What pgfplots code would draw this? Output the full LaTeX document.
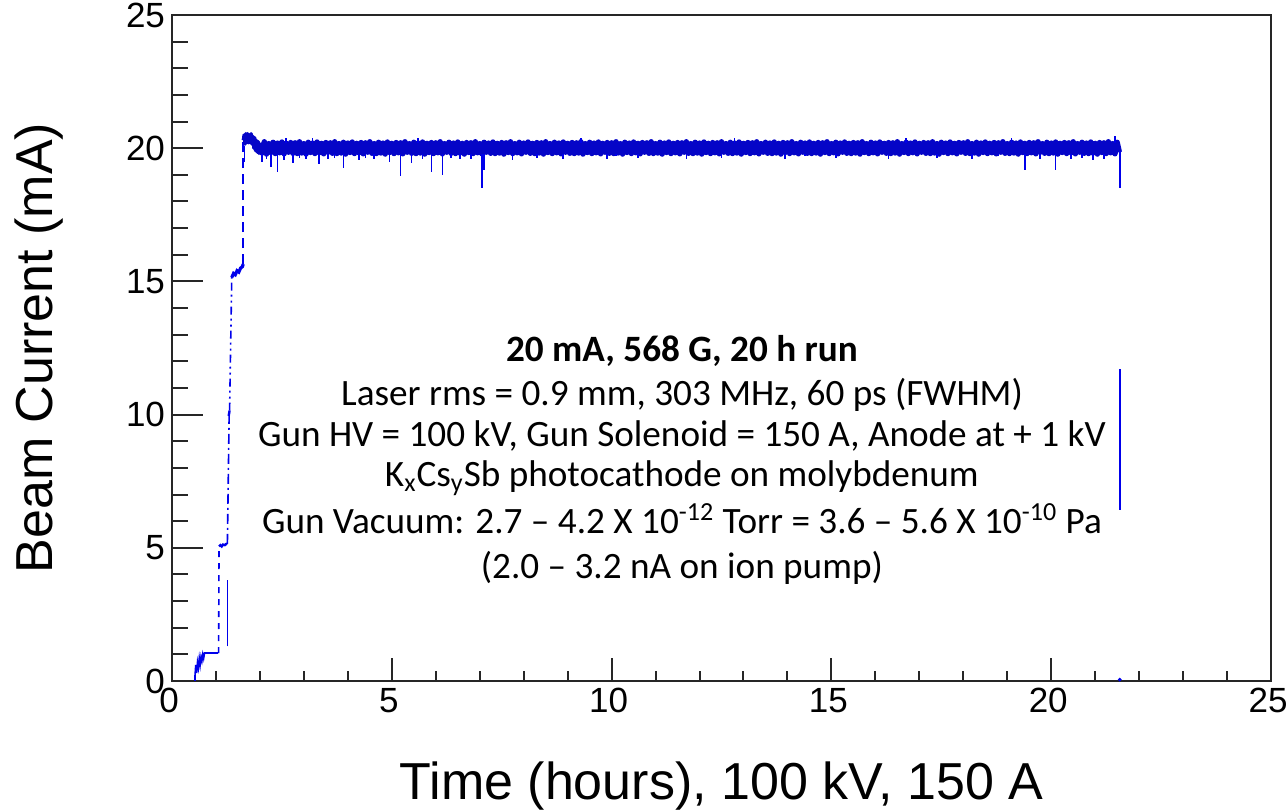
\documentclass[border=0pt]{standalone}
\usepackage{fontspec}
\setmainfont{Liberation Sans}
\newfontfamily\calibri{Carlito}
\usepackage{pgfplots}
\pgfplotsset{compat=1.18}
\definecolor{beam}{rgb}{0,0,0.92}
\definecolor{beamdark}{rgb}{0.02,0.02,0.78}
\begin{document}
\begin{tikzpicture}
\begin{axis}[
  width=549.5pt, height=333pt, scale only axis,
  xmin=0, xmax=25, ymin=0, ymax=25,
  xtick={0,5,10,15,20,25}, ytick={0,5,10,15,20,25},
  xticklabels={0,5,10,15,20,25}, yticklabels={0,5,10,15,20,25},
  minor tick num=4,
  tick align=inside, xtick pos=left, ytick pos=left,
  axis line style={line width=1pt, black!85},
  every tick/.style={black!85, line width=1pt},
  major tick length=15.5pt, minor tick length=8pt,
  xtick style={/pgfplots/major tick length=11.5pt, /pgfplots/minor tick length=5pt},
  tick label style={font=\fontsize{17.5}{21}\selectfont},
  xticklabel style={xshift=-1.5pt},
  /pgf/number format/assume math mode=true,
  unbounded coords=jump,
]
% ramp-up: first plateau (about 1 mA)
\addplot[beam, line width=0.8pt] coordinates {(0.52,0.1)(0.54,0.6)(0.56,0.3)(0.58,0.7)(0.60,0.5)(0.62,0.85)(0.64,0.6)(0.66,0.9)(0.68,0.75)(0.70,1.0)(0.72,0.85)(0.74,1.05)(0.78,1.05)(1.05,1.05)};
\addplot[beam, line width=0.8pt, dashed] coordinates {(0.52,0.0)(0.52,0.4)};
\addplot[beam, line width=0.8pt, dashed] coordinates {(1.06,1.05)(1.07,5.05)};
% 5 mA step
\addplot[beam, line width=1.2pt] coordinates {(1.07,5.05)(1.10,5.1)(1.13,5.05)(1.16,5.12)(1.20,5.1)(1.24,5.15)(1.26,5.15)};
\addplot[beam, line width=0.8pt] coordinates {(1.26,1.3)(1.26,3.8)};
\addplot[beam, line width=0.8pt, dash pattern=on 5pt off 2pt on 1pt off 2pt] coordinates {(1.26,5.15)(1.30,10.0)};
% 10 mA step
\addplot[beam, line width=1.2pt] coordinates {(1.29,9.95)(1.31,10.15)};
\addplot[beam, line width=0.8pt, dash pattern=on 4pt off 2pt on 1pt off 2pt on 1pt off 2pt] coordinates {(1.31,10.15)(1.36,15.2)};
% 15 mA step
\addplot[beam, line width=1.6pt] coordinates {(1.36,15.15)(1.40,15.3)(1.44,15.25)(1.48,15.4)(1.52,15.35)(1.56,15.5)(1.60,15.55)(1.62,15.65)};
\addplot[beam, line width=0.8pt, dash pattern=on 5pt off 3pt] coordinates {(1.62,15.65)(1.62,20.3)};
% 20 mA: overshoot at start
\addplot[beamdark, line width=1.6pt, line join=round] coordinates {
(1.62,20.3)(1.64,20.5)(1.66,20.15)(1.68,20.55)(1.70,20.2)(1.72,20.55)(1.74,20.2)(1.76,20.5)(1.78,20.2)(1.80,20.55)(1.82,20.15)(1.84,20.45)(1.86,20.0)(1.88,20.4)(1.90,19.9)(1.92,20.3)(1.94,19.85)(1.96,20.25)(1.98,19.8)(2.00,20.2)};
\addplot[beam, line width=0.8pt] coordinates {(1.65,20.1)(1.65,19.5)};
% 20 mA run: band
\addplot[beamdark, line width=2.7pt, line join=round] coordinates {
(2.00,20.2)(2.05,19.82)(2.10,20.24)(2.15,19.78)(2.20,20.17)(2.25,19.84)(2.30,20.22)(2.35,19.8)(2.40,20.19)(2.45,19.83)(2.50,20.23)(2.55,19.79)(2.60,20.18)(2.65,19.85)(2.70,20.21)(2.75,19.81)(2.80,20.2)(2.85,19.8)(2.90,20.24)(2.95,19.82)
(3.00,20.17)(3.05,19.78)(3.10,20.22)(3.15,19.84)(3.20,20.19)(3.25,19.8)(3.30,20.23)(3.35,19.83)(3.40,20.18)(3.45,19.79)(3.50,20.21)(3.55,19.85)(3.60,20.2)(3.65,19.81)(3.70,20.24)(3.75,19.8)(3.80,20.17)(3.85,19.82)(3.90,20.22)(3.95,19.78)
(4.00,20.19)(4.05,19.84)(4.10,20.23)(4.15,19.8)(4.20,20.18)(4.25,19.83)(4.30,20.21)(4.35,19.79)(4.40,20.2)(4.45,19.85)(4.50,20.24)(4.55,19.81)(4.60,20.17)(4.65,19.8)(4.70,20.22)(4.75,19.82)(4.80,20.19)(4.85,19.78)(4.90,20.23)(4.95,19.84)
(5.00,20.18)(5.05,19.8)(5.10,20.21)(5.15,19.83)(5.20,20.2)(5.25,19.79)(5.30,20.24)(5.35,19.85)(5.40,20.17)(5.45,19.81)(5.50,20.22)(5.55,19.8)(5.60,20.19)(5.65,19.82)(5.70,20.23)(5.75,19.78)(5.80,20.18)(5.85,19.84)(5.90,20.21)(5.95,19.8)
(6.00,20.2)(6.05,19.83)(6.10,20.24)(6.15,19.79)(6.20,20.17)(6.25,19.85)(6.30,20.22)(6.35,19.81)(6.40,20.19)(6.45,19.8)(6.50,20.23)(6.55,19.82)(6.60,20.18)(6.65,19.78)(6.70,20.21)(6.75,19.84)(6.80,20.2)(6.85,19.8)(6.90,20.24)(6.95,19.83)
(7.00,20.17)(7.05,19.79)(7.10,20.22)(7.15,19.85)(7.20,20.19)(7.25,19.81)(7.30,20.23)(7.35,19.8)(7.40,20.18)(7.45,19.82)(7.50,20.21)(7.55,19.78)(7.60,20.2)(7.65,19.84)(7.70,20.24)(7.75,19.8)(7.80,20.17)(7.85,19.83)(7.90,20.22)(7.95,19.79)
(8.00,20.19)(8.05,19.85)(8.10,20.23)(8.15,19.81)(8.20,20.18)(8.25,19.8)(8.30,20.21)(8.35,19.82)(8.40,20.2)(8.45,19.78)(8.50,20.24)(8.55,19.84)(8.60,20.17)(8.65,19.8)(8.70,20.22)(8.75,19.83)(8.80,20.19)(8.85,19.79)(8.90,20.23)(8.95,19.85)
(9.00,20.18)(9.05,19.81)(9.10,20.21)(9.15,19.8)(9.20,20.2)(9.25,19.82)(9.30,20.24)(9.35,19.78)(9.40,20.17)(9.45,19.84)(9.50,20.22)(9.55,19.8)(9.60,20.19)(9.65,19.83)(9.70,20.23)(9.75,19.79)(9.80,20.18)(9.85,19.85)(9.90,20.21)(9.95,19.81)
(10.00,20.2)(10.05,19.8)(10.10,20.24)(10.15,19.82)(10.20,20.17)(10.25,19.78)(10.30,20.22)(10.35,19.84)(10.40,20.19)(10.45,19.8)(10.50,20.23)(10.55,19.83)(10.60,20.18)(10.65,19.79)(10.70,20.21)(10.75,19.85)(10.80,20.2)(10.85,19.81)(10.90,20.24)(10.95,19.8)
(11.00,20.17)(11.05,19.82)(11.10,20.22)(11.15,19.78)(11.20,20.19)(11.25,19.84)(11.30,20.23)(11.35,19.8)(11.40,20.18)(11.45,19.83)(11.50,20.21)(11.55,19.79)(11.60,20.2)(11.65,19.85)(11.70,20.24)(11.75,19.81)(11.80,20.17)(11.85,19.8)(11.90,20.22)(11.95,19.82)
(12.00,20.19)(12.05,19.78)(12.10,20.23)(12.15,19.84)(12.20,20.18)(12.25,19.8)(12.30,20.21)(12.35,19.83)(12.40,20.2)(12.45,19.79)(12.50,20.24)(12.55,19.85)(12.60,20.17)(12.65,19.81)(12.70,20.22)(12.75,19.8)(12.80,20.19)(12.85,19.82)(12.90,20.23)(12.95,19.78)
(13.00,20.18)(13.05,19.84)(13.10,20.21)(13.15,19.8)(13.20,20.2)(13.25,19.83)(13.30,20.24)(13.35,19.79)(13.40,20.17)(13.45,19.85)(13.50,20.22)(13.55,19.81)(13.60,20.19)(13.65,19.8)(13.70,20.23)(13.75,19.82)(13.80,20.18)(13.85,19.78)(13.90,20.21)(13.95,19.84)
(14.00,20.2)(14.05,19.8)(14.10,20.24)(14.15,19.83)(14.20,20.17)(14.25,19.79)(14.30,20.22)(14.35,19.85)(14.40,20.19)(14.45,19.81)(14.50,20.23)(14.55,19.8)(14.60,20.18)(14.65,19.82)(14.70,20.21)(14.75,19.78)(14.80,20.2)(14.85,19.84)(14.90,20.24)(14.95,19.8)
(15.00,20.17)(15.05,19.83)(15.10,20.22)(15.15,19.79)(15.20,20.19)(15.25,19.85)(15.30,20.23)(15.35,19.81)(15.40,20.18)(15.45,19.8)(15.50,20.21)(15.55,19.82)(15.60,20.2)(15.65,19.78)(15.70,20.24)(15.75,19.84)(15.80,20.17)(15.85,19.8)(15.90,20.22)(15.95,19.83)
(16.00,20.19)(16.05,19.79)(16.10,20.23)(16.15,19.85)(16.20,20.18)(16.25,19.81)(16.30,20.21)(16.35,19.8)(16.40,20.2)(16.45,19.82)(16.50,20.24)(16.55,19.78)(16.60,20.17)(16.65,19.84)(16.70,20.22)(16.75,19.8)(16.80,20.19)(16.85,19.83)(16.90,20.23)(16.95,19.79)
(17.00,20.18)(17.05,19.85)(17.10,20.21)(17.15,19.81)(17.20,20.2)(17.25,19.8)(17.30,20.24)(17.35,19.82)(17.40,20.17)(17.45,19.78)(17.50,20.22)(17.55,19.84)(17.60,20.19)(17.65,19.8)(17.70,20.23)(17.75,19.83)(17.80,20.18)(17.85,19.79)(17.90,20.21)(17.95,19.85)
(18.00,20.2)(18.05,19.81)(18.10,20.24)(18.15,19.8)(18.20,20.17)(18.25,19.82)(18.30,20.22)(18.35,19.78)(18.40,20.19)(18.45,19.84)(18.50,20.23)(18.55,19.8)(18.60,20.18)(18.65,19.83)(18.70,20.21)(18.75,19.79)(18.80,20.2)(18.85,19.85)(18.90,20.24)(18.95,19.81)
(19.00,20.17)(19.05,19.8)(19.10,20.22)(19.15,19.82)(19.20,20.19)(19.25,19.78)(19.30,20.23)(19.35,19.84)(19.40,20.18)(19.45,19.8)(19.50,20.21)(19.55,19.83)(19.60,20.2)(19.65,19.79)(19.70,20.24)(19.75,19.85)(19.80,20.17)(19.85,19.81)(19.90,20.22)(19.95,19.8)
(20.00,20.19)(20.05,19.82)(20.10,20.23)(20.15,19.78)(20.20,20.18)(20.25,19.84)(20.30,20.21)(20.35,19.8)(20.40,20.2)(20.45,19.83)(20.50,20.24)(20.55,19.79)(20.60,20.17)(20.65,19.85)(20.70,20.22)(20.75,19.81)(20.80,20.19)(20.85,19.8)(20.90,20.23)(20.95,19.82)
(21.00,20.18)(21.05,19.78)(21.10,20.21)(21.15,19.84)(21.20,20.2)(21.25,19.8)(21.30,20.24)(21.35,19.83)(21.40,20.17)(21.45,19.79)(21.50,20.22)(21.55,19.85)
};
% 20 mA run: short excursions
\addplot[beam, line width=0.8pt] coordinates {
(2.05,19.8)(2.05,19.5)(2.05,nan)(2.15,19.8)(2.15,19.6)(2.15,nan)(2.25,19.8)(2.25,19.3)(2.25,nan)(2.40,19.8)(2.40,19.1)(2.40,nan)
(2.55,19.8)(2.55,19.55)(2.55,nan)(2.60,20.2)(2.60,20.4)(2.60,nan)(2.75,19.8)(2.75,19.45)(2.75,nan)(2.90,19.8)(2.90,19.65)(2.90,nan)
(3.05,19.8)(3.05,19.6)(3.05,nan)(3.20,20.2)(3.20,20.38)(3.20,nan)(3.35,19.8)(3.35,19.4)(3.35,nan)(3.55,19.8)(3.55,19.6)(3.55,nan)
(3.70,19.8)(3.70,19.65)(3.70,nan)(3.90,19.8)(3.90,19.25)(3.90,nan)(4.25,19.8)(4.25,19.55)(4.25,nan)(4.40,19.8)(4.40,19.65)(4.40,nan)
(4.60,19.8)(4.60,19.6)(4.60,nan)(4.95,19.8)(4.95,19.5)(4.95,nan)(5.20,19.8)(5.20,18.95)(5.20,nan)(5.45,19.8)(5.45,19.45)(5.45,nan)
(5.60,20.2)(5.60,20.38)(5.60,nan)(5.70,19.8)(5.70,19.6)(5.70,nan)(5.90,19.8)(5.90,19.1)(5.90,nan)(6.15,19.8)(6.15,19.0)(6.15,nan)
(6.35,19.8)(6.35,19.65)(6.35,nan)(6.55,19.8)(6.55,19.6)(6.55,nan)(6.80,19.8)(6.80,19.6)(6.80,nan)(7.05,19.8)(7.05,18.5)(7.05,nan)
(7.10,19.8)(7.10,19.2)(7.10,nan)(7.75,19.8)(7.75,19.55)(7.75,nan)(8.30,19.8)(8.30,19.65)(8.30,nan)(8.90,19.8)(8.90,19.6)(8.90,nan)
(9.30,20.2)(9.30,20.38)(9.30,nan)(9.90,19.8)(9.90,19.6)(9.90,nan)(10.10,19.8)(10.10,19.7)(10.10,nan)(10.60,19.8)(10.60,19.65)(10.60,nan)
(11.70,19.8)(11.70,19.6)(11.70,nan)(12.50,19.8)(12.50,19.65)(12.50,nan)(12.80,20.2)(12.80,20.38)(12.80,nan)(13.95,19.8)(13.95,19.6)(13.95,nan)
(14.40,19.8)(14.40,19.7)(14.40,nan)(15.10,19.8)(15.10,19.65)(15.10,nan)(16.30,19.8)(16.30,19.6)(16.30,nan)(16.70,20.2)(16.70,20.38)(16.70,nan)
(17.40,19.8)(17.40,19.65)(17.40,nan)(18.20,19.8)(18.20,19.6)(18.20,nan)(18.80,19.8)(18.80,19.7)(18.80,nan)(19.10,20.2)(19.10,20.38)(19.10,nan)
(19.40,19.8)(19.40,19.2)(19.40,nan)(19.75,19.8)(19.75,19.6)(19.75,nan)(20.10,19.8)(20.10,19.2)(20.10,nan)(20.45,19.8)(20.45,19.6)(20.45,nan)
(20.70,19.8)(20.70,19.65)(20.70,nan)(20.95,19.8)(20.95,19.55)(20.95,nan)(21.20,19.8)(21.20,19.6)(21.20,nan)(21.45,20.2)(21.45,20.45)
};
% end of run
\addplot[beam, line width=0.8pt] coordinates {(21.56,19.9)(21.56,18.5)};
\addplot[beam, line width=0.8pt] coordinates {(21.56,11.7)(21.56,6.4)};
\addplot[beam, only marks, mark=*, mark size=0.7pt] coordinates {(21.56,0.05)};
% annotation
\node[anchor=base, font=\calibri\bfseries\fontsize{18.6}{22}\selectfont] at (axis cs:11.6,11.99) {20 mA, 568 G, 20 h run};
\node[anchor=base, font=\calibri\fontsize{18.6}{22}\selectfont] at (axis cs:11.6,10.36) {Laser rms = 0.9 mm, 303 MHz, 60 ps (FWHM)};
\node[anchor=base, font=\calibri\fontsize{18.6}{22}\selectfont] at (axis cs:11.6,8.80) {Gun HV = 100 kV, Gun Solenoid = 150 A, Anode at + 1 kV};
\node[anchor=base, font=\calibri\fontsize{18.6}{22}\selectfont] at (axis cs:11.6,7.29) {K\textsubscript{x}Cs\textsubscript{y}Sb photocathode on molybdenum};
\node[anchor=base, font=\calibri\fontsize{18.6}{22}\selectfont] at (axis cs:11.6,5.54) {Gun Vacuum: 2.7 – 4.2 X 10\textsuperscript{-12} Torr = 3.6 – 5.6 X 10\textsuperscript{-10} Pa};
\node[anchor=base, font=\calibri\fontsize{18.6}{22}\selectfont] at (axis cs:11.6,3.86) {(2.0 – 3.2 nA on ion pump)};
\end{axis}
\node[rotate=90, anchor=base, font=\fontsize{26}{31}\selectfont] at ([xshift=-59.5pt]current axis.west) {Beam Current (mA)};
\node[anchor=base, font=\fontsize{26}{31}\selectfont] at ([yshift=-59.5pt]current axis.south) {Time (hours), 100 kV, 150 A};
\pgfresetboundingbox
\path[use as bounding box] ([xshift=-86pt,yshift=-65pt]current axis.south west) rectangle ([xshift=8.5pt,yshift=7.5pt]current axis.north east);
\end{tikzpicture}
\end{document}
